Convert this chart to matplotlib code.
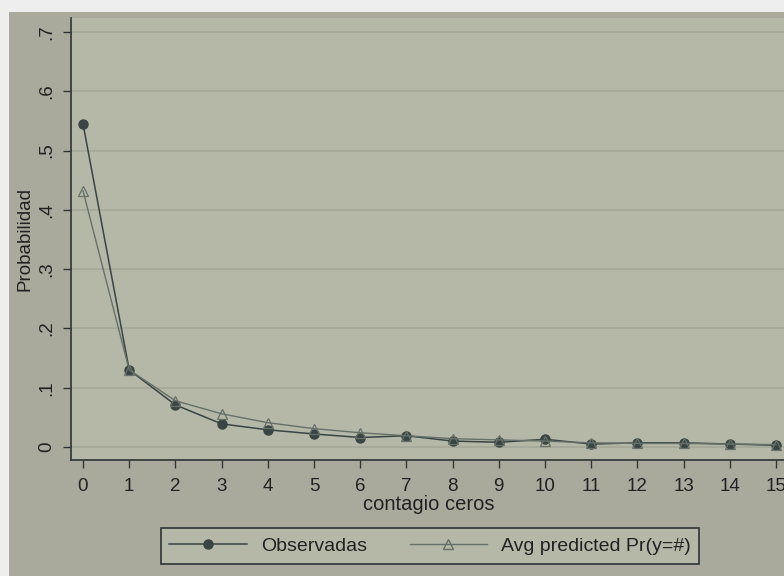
import matplotlib
matplotlib.use("Agg")
import matplotlib.pyplot as plt
from matplotlib.patches import Rectangle
from matplotlib.lines import Line2D

# counts and probabilities
conteo = list(range(16))
observadas = [0.545, 0.130, 0.071, 0.039, 0.029, 0.022, 0.016, 0.019,
              0.010, 0.008, 0.013, 0.005, 0.007, 0.007, 0.005, 0.003]
predichas = [0.432, 0.130, 0.078, 0.056, 0.041, 0.031, 0.024, 0.019,
             0.014, 0.012, 0.010, 0.007, 0.006, 0.006, 0.005, 0.004]
yticks = [0, 0.1, 0.2, 0.3, 0.4, 0.5, 0.6, 0.7]
ytick_labels = ["0", ".1", ".2", ".3", ".4", ".5", ".6", ".7"]

W, H = 784, 576
OUTER = "#a9aa9c"
PLOT = "#b5b7a7"
GRID = "#a7a999"
DARK = "#394444"
GRAY = "#667068"
TXT = "#222222"

plt.rcParams["font.family"] = ["Liberation Sans", "DejaVu Sans"]

fig = plt.figure(figsize=(W / 100, H / 100), dpi=100, facecolor="#eeeeee")
# outer graph region (the image is a crop, so it starts a bit inside)
fig.patches.append(Rectangle((9 / W, 0), 1, 1 - 12 / H, transform=fig.transFigure,
                             facecolor=OUTER, edgecolor="none", zorder=-10))

left, right, top, bottom = 71, 800, 18, 460
ax = fig.add_axes([left / W, 1 - bottom / H, (right - left) / W, (bottom - top) / H])
ax.set_facecolor(PLOT)

x0, xs = 83, 46.2   # pixel of x=0, pixels per unit
y0, ys = 447, 593   # pixel of y=0, pixels per unit
ax.set_xlim((left - x0) / xs, (right - x0) / xs)
ax.set_ylim(-(bottom - y0) / ys, (y0 - top) / ys)

ax.plot(conteo, observadas, color=DARK, lw=1.1, marker="o", ms=6.5,
        mfc=DARK, mec=DARK, zorder=3)
ax.plot(conteo, predichas, color=GRAY, lw=1.0, marker="^", ms=7,
        mfc="none", mec=GRAY, mew=0.9, zorder=4)

ax.set_yticks(yticks)
ax.set_yticklabels(ytick_labels, rotation=90, va="center")
ax.set_xticks(conteo)
ax.grid(axis="y", color=GRID, lw=1.4)
ax.set_axisbelow(True)
ax.tick_params(axis="both", direction="out", length=6, width=1, color="#2f3535",
               labelsize=13.5, labelcolor=TXT)
ax.tick_params(axis="y", pad=5)
ax.tick_params(axis="x", pad=7)
for s in ["top", "right"]:
    ax.spines[s].set_visible(False)
for s in ["left", "bottom"]:
    ax.spines[s].set_color("#2f3535")
    ax.spines[s].set_linewidth(1.2)

ax.set_ylabel("Probabilidad", fontsize=13.5, color=TXT, labelpad=4)
fig.text(429 / W, 1 - 505 / H, "contagio ceros", ha="center", va="center",
         fontsize=14.5, color=TXT)

handles = [
    Line2D([], [], color=DARK, lw=1.1, marker="o", ms=6.5, mfc=DARK, mec=DARK),
    Line2D([], [], color=GRAY, lw=1.0, marker="^", ms=7, mfc="none", mec=GRAY),
]
leg = fig.legend(handles, ["Observadas", "Avg predicted Pr(y=#)"], ncol=2,
                 loc="center", bbox_to_anchor=(430 / W, 1 - 546 / H),
                 fontsize=14, frameon=True, fancybox=False, handlelength=4.0,
                 columnspacing=2.2, borderpad=0.45, handletextpad=0.7,
                 borderaxespad=0)
frame = leg.get_frame()
frame.set_facecolor(PLOT)
frame.set_edgecolor("#2f3535")
frame.set_linewidth(1.2)
frame.set_alpha(1)
for t in leg.get_texts():
    t.set_color(TXT)

fig.savefig("out.png", dpi=100, facecolor=fig.get_facecolor())
